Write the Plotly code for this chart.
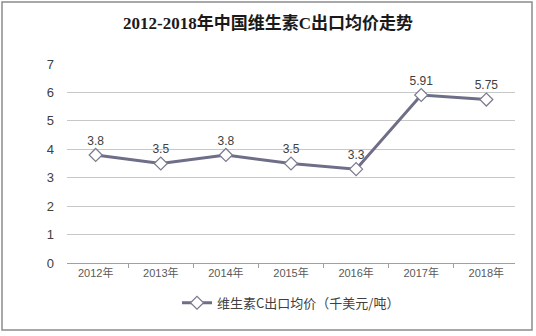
import plotly.graph_objects as go

years = ["2012年", "2013年", "2014年", "2015年", "2016年", "2017年", "2018年"]
prices = [3.8, 3.5, 3.8, 3.5, 3.3, 5.91, 5.75]
labels = ["3.8", "3.5", "3.8", "3.5", "3.3", "5.91", "5.75"]
series_name = "维生素C出口均价（千美元/吨）"
title = "<b>2012-2018年中国维生素C出口均价走势</b>"

fig = go.Figure()
fig.add_trace(go.Scatter(
    x=years, y=prices, mode="lines+markers+text", name=series_name,
    text=labels, textposition="top center",
    textfont=dict(family="Liberation Sans, Arial, sans-serif", size=12, color="#404040"),
    line=dict(color="#6E6E88", width=3),
    marker=dict(symbol="diamond", size=10, color="white", line=dict(color="#7A7A90", width=1.2)),
    cliponaxis=False,
))

fig.update_layout(
    width=536, height=336,
    margin=dict(l=67, r=21, t=64, b=73),
    paper_bgcolor="white", plot_bgcolor="white",
    title=dict(text=title, x=0.5, xanchor="center", y=0.93, yanchor="middle",
               font=dict(family="Liberation Serif, Noto Sans CJK SC, serif", size=17, color="#1a1a1a")),
    showlegend=True,
    legend=dict(orientation="h", x=0.5, xanchor="center", y=-0.2, yanchor="middle",
                font=dict(family="Noto Sans CJK SC, sans-serif", size=13, color="#404040"),
                itemwidth=30),
    xaxis=dict(type="category", showgrid=False, showline=True, linecolor="#A0A0A0", linewidth=1,
               ticks="outside", tickson="boundaries", ticklen=4, tickcolor="#A0A0A0",
               tickfont=dict(family="Liberation Sans, Noto Sans CJK SC, sans-serif", size=11, color="#595959")),
    yaxis=dict(range=[0, 7], dtick=1, showgrid=True, gridcolor="#C8C8C8", gridwidth=1,
               zeroline=False, showline=False, ticks="", ticklabelstandoff=12,
               tickfont=dict(family="Liberation Sans, sans-serif", size=13, color="#404040")),
    shapes=[dict(type="rect", xref="paper", yref="paper",
                 x0=-67/448 + 2/448, x1=1 + 17/448, y0=-(73-6)/199, y1=1 + 62/199,
                 line=dict(color="#8C8C8C", width=1.5), fillcolor="rgba(0,0,0,0)", layer="below")],
)

fig.write_html("out.html")
